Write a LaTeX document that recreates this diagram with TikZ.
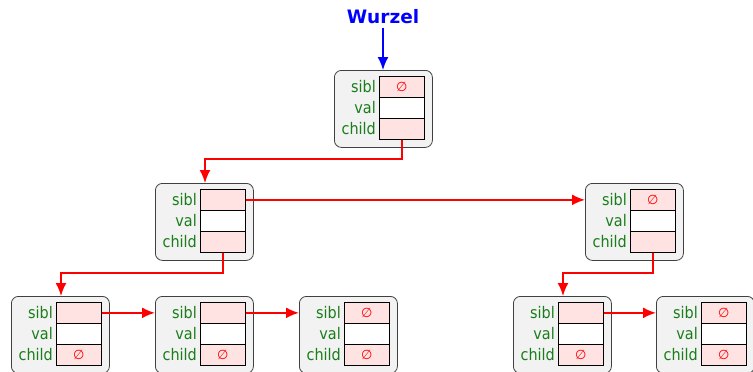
\documentclass[tikz,border=0pt]{standalone}
\usepackage{fontspec}
\setmainfont{DejaVu Sans Condensed}
\newfontfamily\wfont{DejaVu Sans}
\usetikzlibrary{arrows.meta,calc}
\definecolor{cellpink}{RGB}{255,226,226}
\definecolor{boxgray}{RGB}{242,242,242}
\definecolor{labgreen}{RGB}{25,125,25}
\tikzset{
  outerbox/.style={draw=black!75, fill=boxgray, rounded corners=7pt, line width=0.8pt, minimum width=98pt, minimum height=77pt, inner sep=0pt, anchor=north west},
  cellbox/.style={draw=black, line width=0.7pt, minimum width=45pt, minimum height=21pt, inner sep=0pt, anchor=north west, font=\wfont\fontsize{13}{13}\selectfont, text=red},
  pinkcell/.style={cellbox, fill=cellpink},
  whitecell/.style={cellbox, fill=white},
  fieldlab/.style={anchor=east, text=labgreen, font=\fontsize{16}{16}\selectfont, inner sep=0pt, xshift=-3pt},
  redlink/.style={draw=red, line width=1.8pt, -{Latex[length=13pt,width=11pt]}},
  bluelink/.style={draw=blue, line width=1.8pt, -{Latex[length=13pt,width=11pt]}},
}
\newcommand{\listnode}[5]{%
  \node[outerbox] (#1) at (#2,#3) {};
  \node[pinkcell] (#1-s) at (#2+45,#3+6) {#4};
  \node[whitecell] (#1-v) at (#2+45,#3+27) {};
  \node[pinkcell] (#1-c) at (#2+45,#3+48) {#5};
  \node[fieldlab] (#1-ls) at (#1-s.west) {sibl};
  \node[fieldlab] (#1-lv) at (#1-v.west) {val};
  \node[fieldlab] (#1-lc) at (#1-c.west) {child};
  \coordinate (#1-in) at (#2+50,#3);
}
\newcommand{\nil}{{\itshape ∅}}
\begin{document}
\begin{tikzpicture}[x=1pt,y=-1pt]
\useasboundingbox (0,0) rectangle (753,372);
\node[text=blue, font=\wfont\fontsize{18.5}{18.5}\selectfont\bfseries] (w) at (383,17) {Wurzel};
\listnode{r}{334}{70}{\nil}{}
\listnode{a}{155}{183}{}{}
\listnode{b}{585}{183}{\nil}{}
\listnode{c}{11}{296}{}{\nil}
\listnode{d}{155}{296}{}{\nil}
\listnode{e}{299}{296}{\nil}{\nil}
\listnode{f}{513}{296}{}{\nil}
\listnode{g}{656}{296}{\nil}{\nil}
\draw[bluelink] (w.south) -- (w.south |- r.north);
\draw[redlink] (r-c.south) -- ++(0,19) -| (a-in);
\draw[redlink] (a-s.east) -- (a-s.east -| b.west);
\draw[redlink] (a-c.south) -- ++(0,20) -| (c-in);
\draw[redlink] (b-c.south) -- ++(0,20) -| (f-in);
\draw[redlink] (c-s.east) -- (c-s.east -| d.west);
\draw[redlink] (d-s.east) -- (d-s.east -| e.west);
\draw[redlink] (f-s.east) -- (f-s.east -| g.west);
\end{tikzpicture}
\end{document}
